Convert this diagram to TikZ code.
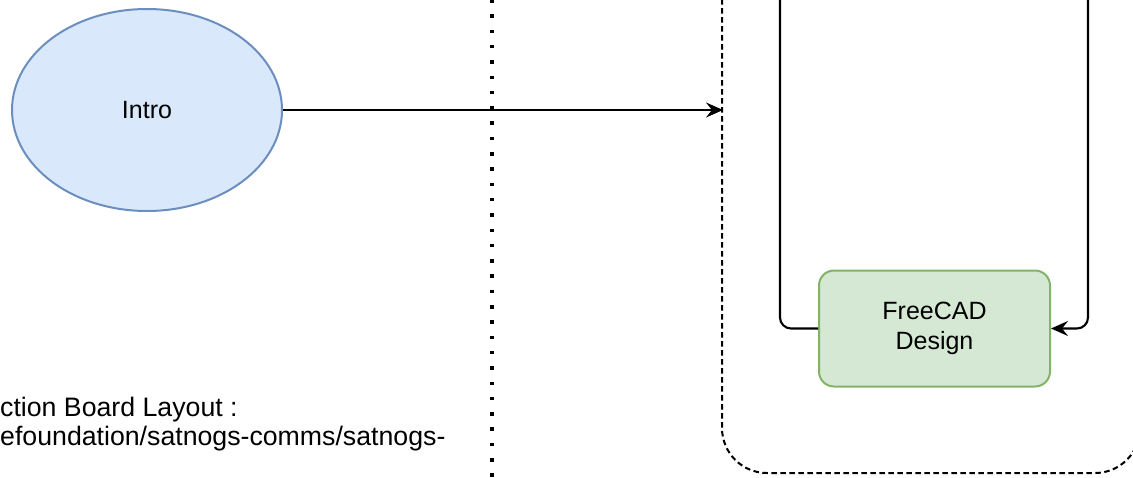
\documentclass[tikz,border=0pt]{standalone}
\usepackage{fontspec}
\setmainfont{Liberation Sans}
\usetikzlibrary{arrows.meta,shapes.geometric}
\definecolor{bluefill}{HTML}{DAE8FC}
\definecolor{bluestroke}{HTML}{6C8EBF}
\definecolor{greenfill}{HTML}{D5E8D4}
\definecolor{greenstroke}{HTML}{82B366}
\tikzset{
  lbl/.style={font=\fontsize{25}{30}\selectfont, text=black},
  biglbl/.style={font=\fontsize{26.7}{30}\selectfont, text=black},
  introell/.style={ellipse, draw=bluestroke, fill=bluefill, line width=2pt, minimum width=270pt, minimum height=202pt, inner sep=0pt, lbl},
  greenbox/.style={rectangle, rounded corners=15pt, draw=greenstroke, fill=greenfill, line width=2pt, minimum width=231pt, minimum height=116pt, inner sep=0pt, align=center, lbl},
  conn/.style={draw=black, line width=2.1pt, -{Stealth[length=17pt,width=15pt,inset=6pt]}},
  dotsep/.style={draw=black, line width=3.8pt, dash pattern=on 3.5pt off 11.8pt},
  dashbox/.style={draw=black, line width=2pt, dash pattern=on 5.5pt off 3.5pt, rounded corners=45pt},
}
\begin{document}
\begin{tikzpicture}[x=1pt,y=-1pt]
\useasboundingbox (0,0) rectangle (1133,477);
\clip (0,0) rectangle (1133,477);
% dotted separator
\coordinate (dtop) at (492,-1);
\coordinate (dbot) at (492,480);
\draw[dotsep] (dtop) -- (dbot);
% dashed container
\coordinate (cnw) at (722,-100);
\coordinate (cse) at (1140,473);
\draw[dashbox] (cnw) rectangle (cse);
% intro ellipse
\node[introell] (intro) at (147,110) {Intro};
\coordinate (cin) at (723,110);
\draw[conn] (intro.east) -- (cin);
% FreeCAD box
\node[greenbox] (fc) at (934.5,328.5) {FreeCAD\\Design};
\coordinate (lt) at (780,-40);
\coordinate (rt) at (1088,-40);
\draw[conn, rounded corners=11pt] (fc.west) -| (lt) -- (rt) |- (fc.east);
% bottom text
\node[biglbl, anchor=base west, inner sep=0pt] (t1) at (0,416) {ction Board Layout :};
\node[biglbl, anchor=base west, inner sep=0pt] (t2) at (0,445) {efoundation/satnogs-comms/satnogs-};
\end{tikzpicture}
\end{document}
